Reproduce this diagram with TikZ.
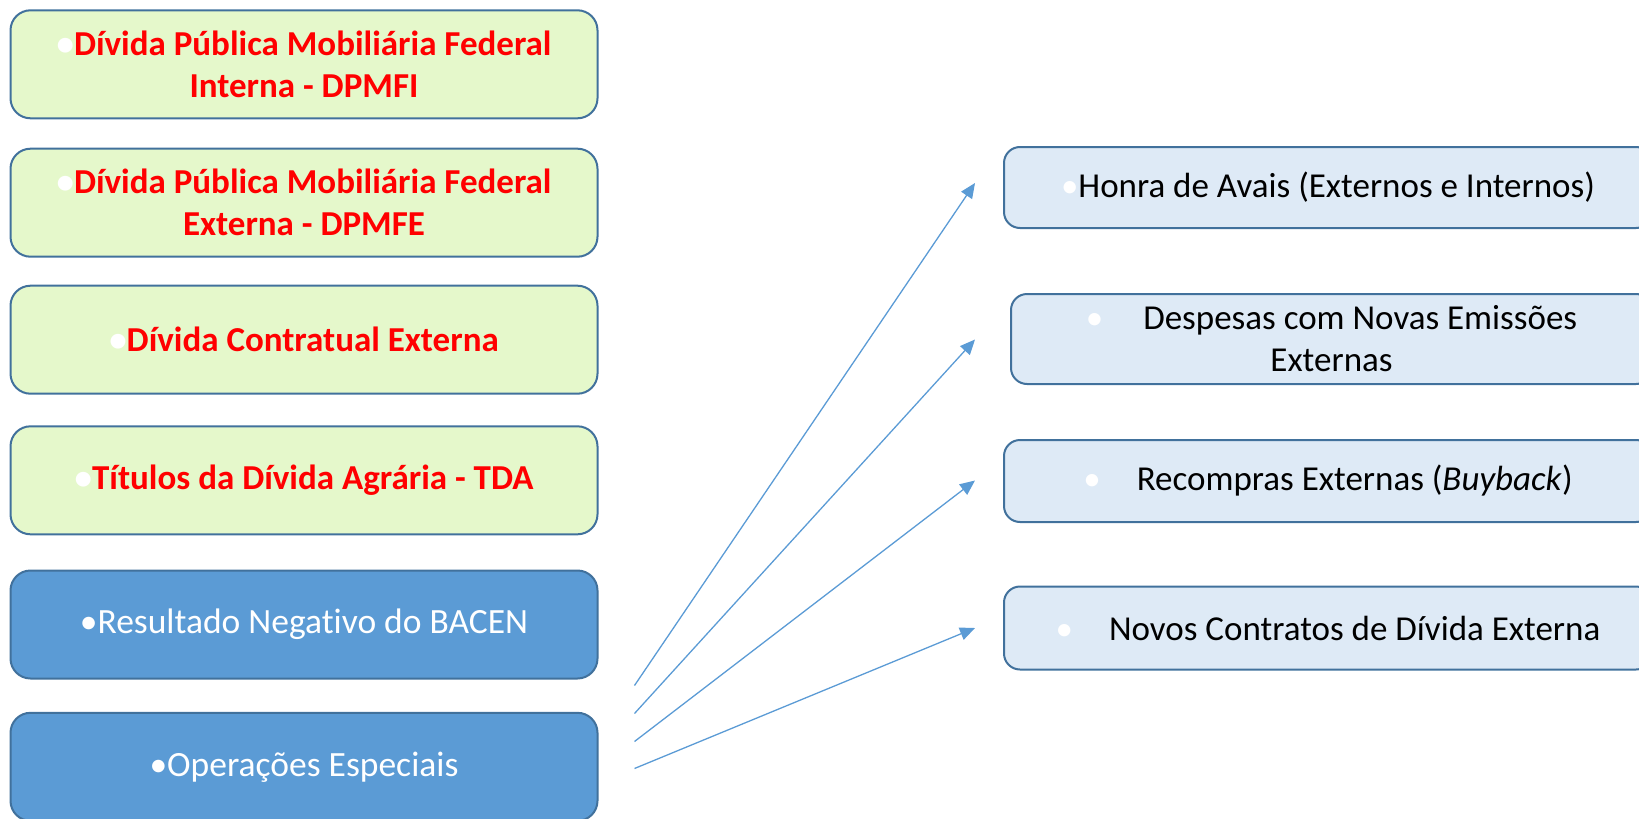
\documentclass[tikz,border=0pt]{standalone}
\usepackage{fontspec}
\setmainfont[RawFeature=-liga]{Carlito}
\usetikzlibrary{arrows.meta}
\definecolor{edgeblue}{HTML}{41719C}
\definecolor{greenfill}{HTML}{E5F8CB}
\definecolor{midblue}{HTML}{5B9BD5}
\definecolor{paleblue}{HTML}{DEEAF6}
\definecolor{redtxt}{HTML}{FF0000}
\newcommand{\wb}{{\color{white}•}}
\tikzset{
  leftbox/.style={draw=edgeblue, line width=2pt, rounded corners=20pt, fill=greenfill,
    minimum width=587pt, minimum height=108pt, align=center, text=redtxt,
    font=\fontsize{35}{42}\selectfont\bfseries, inner sep=0pt},
  bluebox/.style={leftbox, fill=midblue, text=white, font=\fontsize{35.5}{42}\selectfont},
  rightbox/.style={draw=edgeblue, line width=2pt, rounded corners=16pt, fill=paleblue,
    minimum width=648pt, align=center, text=black,
    font=\fontsize{35}{42}\selectfont, inner sep=0pt},
  conn/.style={draw=midblue, line width=1.3pt, -{Triangle[length=15pt,width=13pt]}}
}
\begin{document}
\begin{tikzpicture}[x=1pt,y=-1pt]
\useasboundingbox (0,0) rectangle (1639,819);
\node[leftbox] (b1) at (304,64.3) {\wb Dívida Pública Mobiliária Federal\\Interna - DPMFI};
\node[leftbox] (b2) at (304,202.7) {\wb Dívida Pública Mobiliária Federal\\Externa - DPMFE};
\node[leftbox] (b3) at (304,339.7) {\wb Dívida Contratual Externa};
\node[leftbox] (b4) at (304,480.3) {\wb Títulos da Dívida Agrária - TDA};
\node[bluebox] (b5) at (304,624.5) {•Resultado Negativo do BACEN};
\node[bluebox] (b6) at (304,766.8) {•Operações Especiais};

\node[rightbox, minimum height=81pt] (r1) at (1328,187.5) {\wb Honra de Avais (Externos e Internos)};
\node[rightbox, minimum height=90pt, minimum width=641pt] (r2) at (1331.5,339) {\wb\hspace{40pt}Despesas com Novas Emissões\\Externas};
\node[rightbox, minimum height=82pt] (r3) at (1328,481) {\wb\hspace{36pt}Recompras Externas (\textit{Buyback})};
\node[rightbox, minimum height=83pt] (r4) at (1328,628) {\wb\hspace{36pt}Novos Contratos de Dívida Externa};

\coordinate (s1) at (634.5,685.5);
\coordinate (s2) at (634.5,713.5);
\coordinate (s3) at (634.5,741.5);
\coordinate (s4) at (634.5,768.5);
\coordinate (e1) at (975,183);
\coordinate (e2) at (975,339.5);
\coordinate (e3) at (975,480.5);
\coordinate (e4) at (975,628);
\draw[conn] (s1) -- (e1);
\draw[conn] (s2) -- (e2);
\draw[conn] (s3) -- (e3);
\draw[conn] (s4) -- (e4);
\end{tikzpicture}
\end{document}
